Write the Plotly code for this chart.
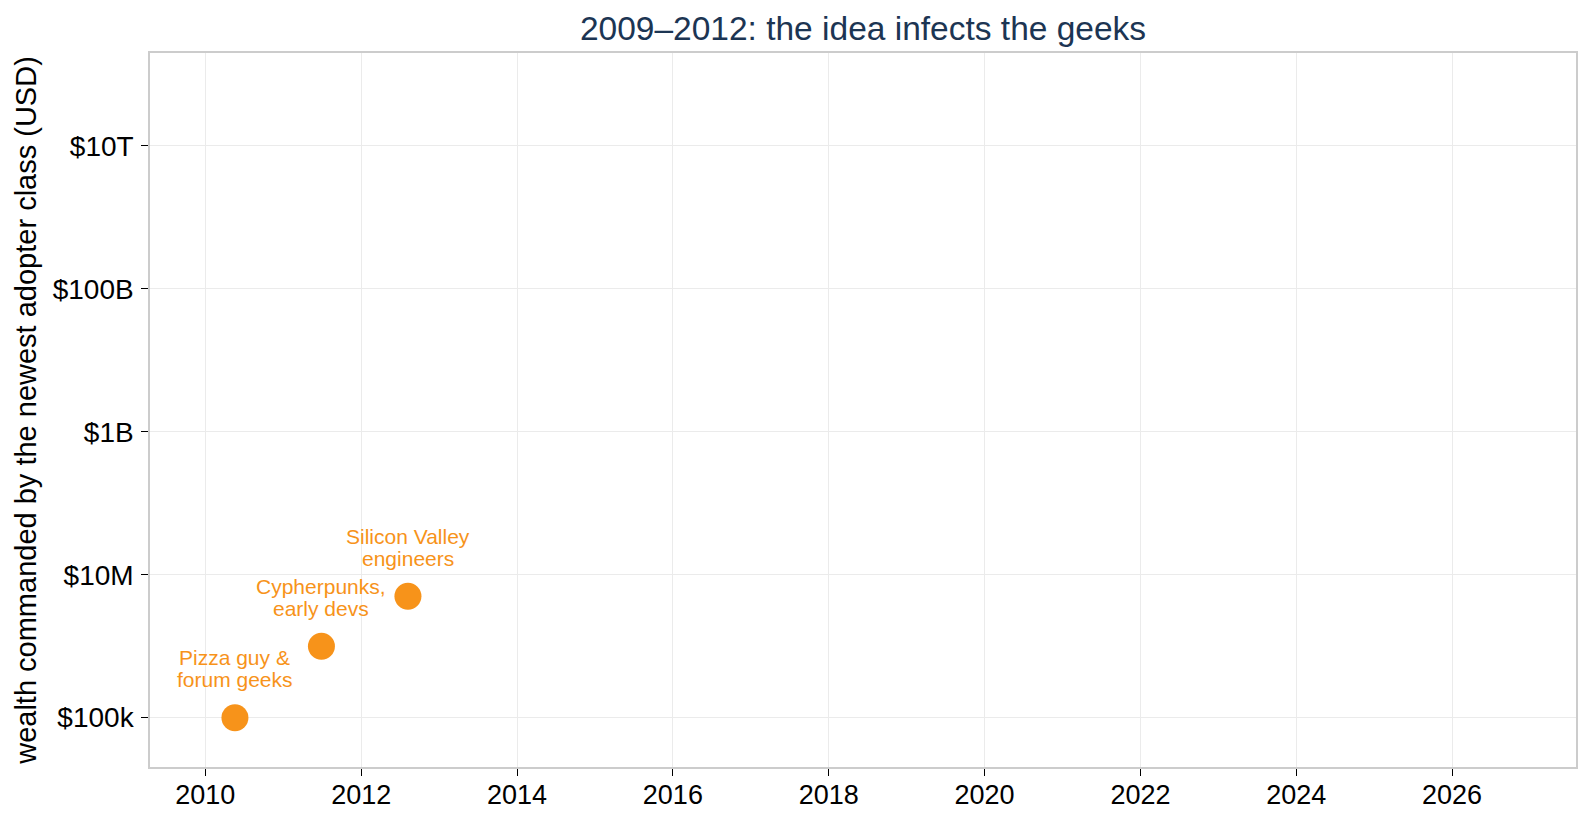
import math
import plotly.graph_objects as go

years = [2010.38, 2011.49, 2012.6]
wealth = [1e5, 1e6, 5e6]
label_line1 = ["Pizza guy &", "Cypherpunks,", "Silicon Valley"]
label_line2 = ["forum geeks", "early devs", "engineers"]

ytick_vals = [1e5, 1e7, 1e9, 1e11, 1e13]
ytick_text = ["$100k", "$10M", "$1B", "$100B", "$10T"]
xtick_vals = [2010, 2012, 2014, 2016, 2018, 2020, 2022, 2024, 2026]

orange = "#F7931A"
font = "Liberation Sans, Arial, sans-serif"

fig = go.Figure()
fig.add_trace(go.Scatter(
    x=years, y=wealth, mode="markers",
    marker=dict(color=orange, size=27, line=dict(width=0)),
    showlegend=False, hoverinfo="skip",
))

for xv, yv, l1, l2 in zip(years, wealth, label_line1, label_line2):
    for txt, shift in ((l1, 60), (l2, 38)):
        fig.add_annotation(
            x=xv, y=math.log10(yv), xref="x", yref="y", text=txt,
            showarrow=False, xanchor="center", yanchor="middle", yshift=shift,
            font=dict(color=orange, size=21, family=font),
        )

fig.update_layout(
    width=1592, height=825,
    margin=dict(l=150, r=16, t=53, b=58),
    plot_bgcolor="white", paper_bgcolor="white",
    font=dict(family=font, color="black", size=27),
    title=dict(text="2009–2012: the idea infects the geeks", x=0.5, xref="paper",
               y=0.9656, yref="container", yanchor="middle",
               font=dict(size=33.5, color="#1c3553", family=font)),
)
fig.update_xaxes(
    range=[2009.29, 2027.59], tickvals=xtick_vals, ticks="outside", ticklen=7,
    tickcolor="black", tickfont=dict(size=27), showgrid=True, gridcolor="#ebebeb",
    showline=True, linecolor="#cccccc", linewidth=1.5, mirror=True, zeroline=False,
    ticklabelstandoff=-4,
)
fig.update_yaxes(
    type="log", range=[4.31, 14.30], tickvals=ytick_vals, ticktext=ytick_text,
    ticks="outside", ticklen=7, tickcolor="black", tickfont=dict(size=28),
    showgrid=True, gridcolor="#ebebeb", showline=True, linecolor="#cccccc",
    linewidth=1.5, mirror=True, zeroline=False, ticklabelstandoff=2,
    title=dict(text="wealth commanded by the newest adopter class (USD)", font=dict(size=29), standoff=8),
)

fig.write_html("out.html")
